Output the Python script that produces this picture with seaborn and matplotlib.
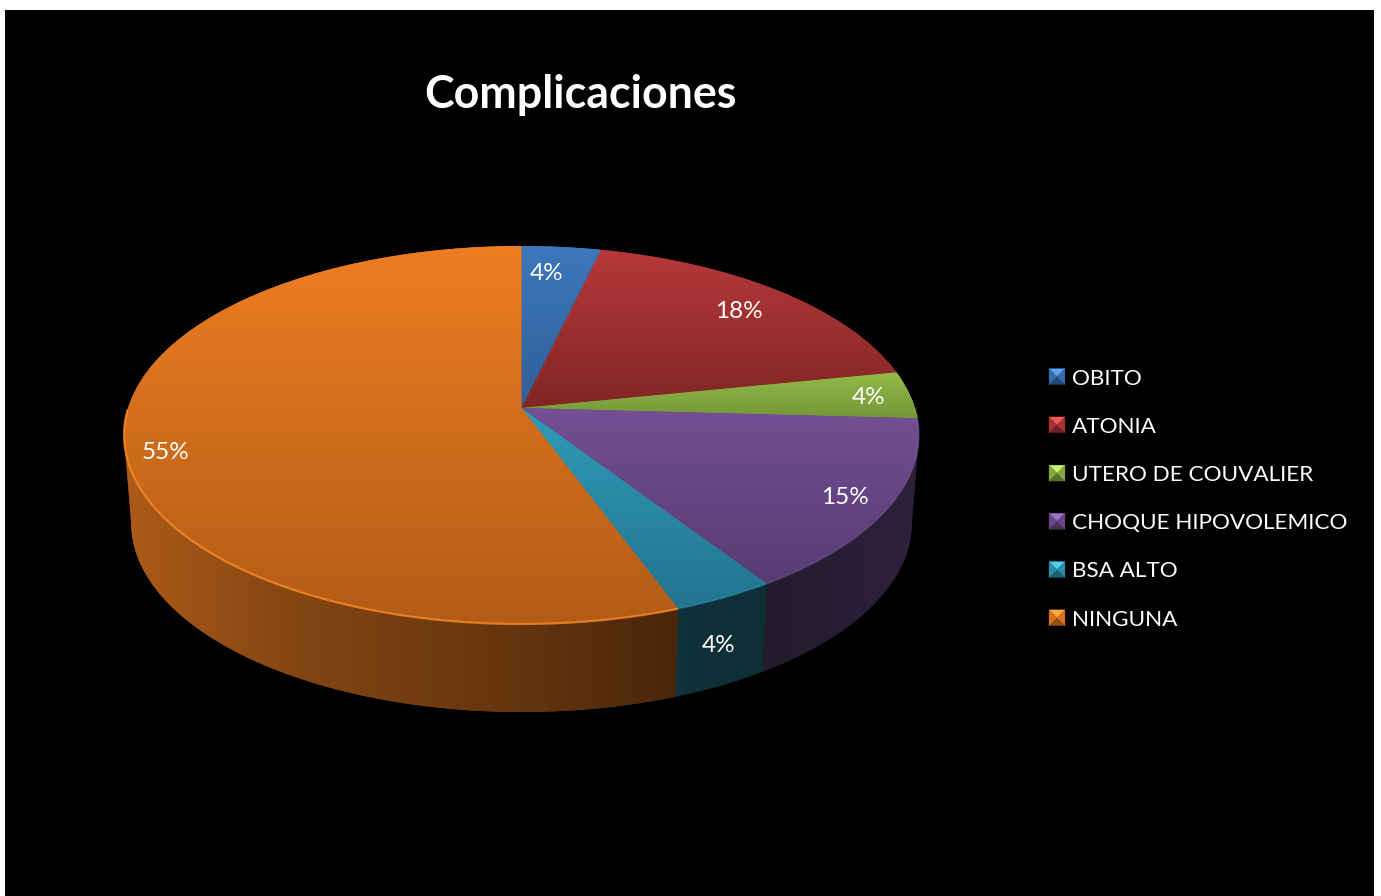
import numpy as np
import matplotlib
matplotlib.use("Agg")
import matplotlib.pyplot as plt
import matplotlib.transforms as mtransforms
from matplotlib.legend_handler import HandlerBase
from matplotlib.patches import Polygon
import seaborn as sns

categories = ["OBITO", "ATONIA", "UTERO DE COUVALIER", "CHOQUE HIPOVOLEMICO", "BSA ALTO", "NINGUNA"]
values = [3.7, 18.13, 4.04, 14.88, 3.65, 55.6]
pct_labels = ["4%", "18%", "4%", "15%", "4%", "55%"]
top_colors = ["#3c78bc", "#b8383a", "#92bb48", "#744f94", "#2f9cb8", "#ee7d22"]
bottom_colors = ["#2f5f98", "#802624", "#74973a", "#573c72", "#23738f", "#b25c16"]
wall_colors = ["#3c78bc", "#b8383a", "#92bb48", "#7a5a9e", "#32a0bc", "#ee7d22"]
rim_alpha = [0.2, 0.2, 0.2, 0.2, 0.2, 0.75]

sns.set_theme(style="dark")
plt.rcParams["font.family"] = ["Lato", "DejaVu Sans"]

W, H = 1381, 896
fig = plt.figure(figsize=(W / 100, H / 100), dpi=100, facecolor="white")
L, R, T = 5, 1374, 10
ax = fig.add_axes([L / W, 0, (R - L) / W, (H - T) / H], facecolor="black")

CX, CY, A, B, C = 521.5, 408.0, 393.4, 185.14, 1 / 7


def project(u, v):
    d = 1 + C * v
    return CX + A * u / d, CY - B * v / d


class Perspective(mtransforms.Transform):
    input_dims = output_dims = 2
    is_separable = False
    has_inverse = False

    def transform_non_affine(self, xy):
        xy = np.asarray(xy, dtype=float)
        x, y = project(xy[:, 0], xy[:, 1])
        return np.column_stack([x, y])


persp = Perspective()
wedges, _ = ax.pie(values, colors=sns.color_palette(top_colors), startangle=90,
                   counterclock=False,
                   wedgeprops=dict(transform=persp + ax.transData, linewidth=0, zorder=3))

DEPTH, SHRINK = 88.0, 0.982
shade_x = [130, 300, 520, 670, 770, 910]
shade_f = [0.72, 0.55, 0.42, 0.31, 0.29, 0.37]

for w, wall, top, bottom, ra in zip(wedges, wall_colors, top_colors, bottom_colors, rim_alpha):
    base = np.array(matplotlib.colors.to_rgb(wall))
    # wall: only the part below the widest point of the top face is visible
    th = np.radians(np.linspace(w.theta1, w.theta2, 400))
    th_wall = th[np.sin(th) <= -C]
    if th_wall.size > 1:
        tx, ty = project(np.cos(th_wall), np.sin(th_wall))
        bx, by = CX + (tx - CX) * SHRINK, ty + DEPTH
        poly = Polygon(np.column_stack([np.r_[tx, bx[::-1]], np.r_[ty, by[::-1]]]), closed=True,
                       facecolor=base * np.interp(bx.mean(), shade_x, shade_f),
                       edgecolor="none", zorder=1.5)
        ax.add_patch(poly)
        x0, x1 = min(tx.min(), bx.min()), max(tx.max(), bx.max())
        xs = np.linspace(x0, x1, 256)
        img = (np.interp(xs, shade_x, shade_f)[:, None] * base[None, :])[None, :, :]
        im = ax.imshow(img, extent=(x0, x1, by.max() + 1, ty.min() - 1), aspect="auto",
                       zorder=2, interpolation="bilinear")
        im.set_clip_path(poly)
    # rim along the front edge of the top face
    th_rim = th[np.sin(th) < 0]
    if th_rim.size > 1:
        tx, ty = project(np.cos(th_rim), np.sin(th_rim))
        ax.plot(tx, ty, color=np.minimum(base * 1.12, 1), lw=1.6, alpha=ra, zorder=5,
                solid_capstyle="butt")
    # top gradient
    ext = persp.transform_path(w.get_path()).get_extents()
    grad = np.linspace(matplotlib.colors.to_rgb(top), matplotlib.colors.to_rgb(bottom), 128)[:, None, :]
    im = ax.imshow(grad, extent=(ext.x0, ext.x1, ext.y1, ext.y0), aspect="auto", zorder=4,
                   interpolation="bilinear")
    im.set_clip_path(w)

ax.set_xlim(L, R)
ax.set_ylim(H, T)
ax.set_aspect("auto")
ax.set_xticks([])
ax.set_yticks([])
ax.grid(False)
ax.set_frame_on(True)
for s in ax.spines.values():
    s.set_visible(False)

# percentage labels
label_xy = [(547, 273), (739, 311), (869, 397), (845, 497), (719, 645), (166, 452)]
for lab, (x, y) in zip(pct_labels, label_xy):
    ax.text(x, y, lab, color="white", fontsize=17.5,
            ha="center", va="center", zorder=8)

ax.text(580, 95, "Complicaciones", color="white", fontsize=32.2, fontweight="bold",
        ha="center", va="center", zorder=8)


class BevelHandler(HandlerBase):
    def create_artists(self, legend, orig, xdescent, ydescent, width, height, fontsize, trans):
        c = np.array(matplotlib.colors.to_rgb(orig.get_facecolor()))
        x0, y0 = -xdescent, -ydescent
        x1, y1 = x0 + width, y0 + height
        mx, my = (x0 + x1) / 2, (y0 + y1) / 2
        out = []
        tris = [([(x0, y1), (x1, y1), (mx, my)], np.minimum(c * 1.2 + 0.08, 1)),
                ([(x0, y0), (x1, y0), (mx, my)], c * 0.6),
                ([(x0, y0), (x0, y1), (mx, my)], c * 0.9),
                ([(x1, y0), (x1, y1), (mx, my)], c * 0.9)]
        for pts, col in tris:
            out.append(Polygon(pts, closed=True, facecolor=col, edgecolor=col, lw=0.2, transform=trans))
        return out


leg = ax.legend(wedges, categories, loc="upper left",
                bbox_to_anchor=(1049, 368.5), bbox_transform=ax.transData,
                frameon=False, fontsize=16.2, labelcolor="white", labelspacing=1.255,
                handlelength=0.71, handleheight=0.71, handletextpad=0.31,
                borderpad=0, borderaxespad=0,
                handler_map={type(wedges[0]): BevelHandler()})
leg.set_zorder(9)

fig.savefig("out.png", dpi=100, facecolor="white")
